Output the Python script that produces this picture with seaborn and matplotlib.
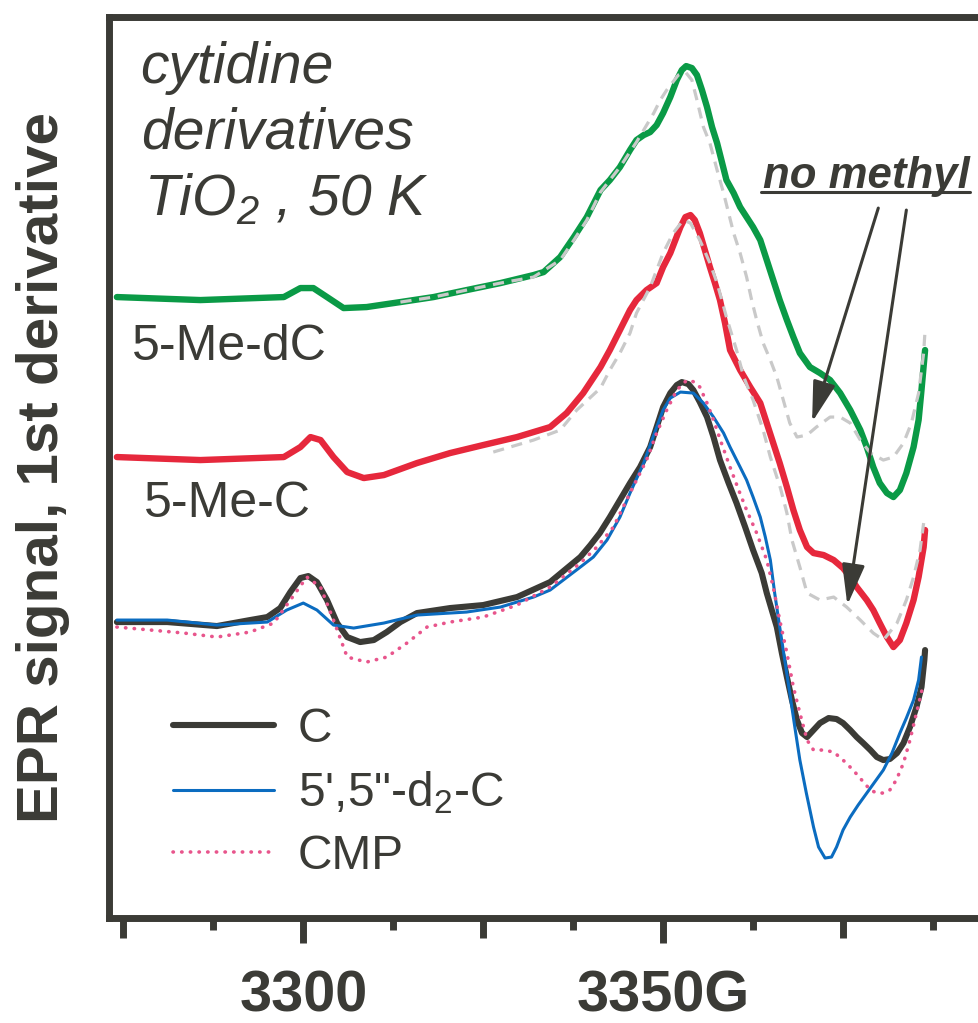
import matplotlib
matplotlib.use("Agg")
import matplotlib.pyplot as plt
import seaborn as sns
from matplotlib.lines import Line2D

# field in G, signal in arbitrary units
me_dc_field = [3274.1, 3285.7, 3297.3, 3299.6, 3301.4, 3303.3, 3305.6, 3308.8, 3313.5, 3318.1,
               3322.7, 3327.4, 3332.0, 3333.4, 3335.7, 3337.6, 3339.4, 3341.3, 3342.6, 3344.0,
               3345.4, 3346.3, 3347.3, 3348.2, 3349.1, 3350.0, 3351.0, 3351.9, 3352.6, 3353.2,
               3354.0, 3354.7, 3355.4, 3356.1, 3356.8, 3357.5, 3358.1, 3358.8, 3359.8, 3360.7,
               3361.6, 3362.5, 3363.5, 3364.4, 3365.3, 3366.2, 3367.2, 3368.1, 3369.0, 3370.4,
               3371.8, 3373.2, 3374.6, 3376.0, 3377.4, 3378.3, 3379.2, 3380.1, 3381.1, 3382.0,
               3382.9, 3383.8, 3384.8, 3385.5, 3385.9, 3386.4]
me_dc_signal = [62.1, 61.8, 62.1, 63.0, 63.0, 62.1, 61.0, 61.1, 61.6, 62.1,
                62.8, 63.5, 64.3, 64.6, 66.1, 68.1, 70.1, 72.8, 73.8, 75.1,
                76.8, 77.8, 78.3, 78.6, 79.3, 80.5, 82.1, 83.8, 84.8, 85.2,
                85.0, 84.3, 82.8, 81.1, 79.1, 77.5, 75.8, 73.8, 72.5, 71.1,
                70.1, 69.1, 67.8, 65.8, 63.8, 61.8, 59.8, 58.1, 56.5, 55.1,
                54.5, 53.8, 52.5, 50.8, 48.8, 47.1, 45.1, 43.5, 42.5, 42.1,
                42.8, 44.5, 47.1, 49.8, 52.8, 56.8]

# "no methyl" reference overlaid on 5-Me-dC
ref_dc_field = [3313.5, 3318.1, 3322.7, 3327.4, 3332.0, 3335.7, 3337.6, 3339.4, 3341.3, 3344.0,
                3346.3, 3347.3, 3348.7, 3349.6, 3350.5, 3352.1, 3353.1, 3354.0, 3354.7, 3355.6,
                3356.5, 3357.5, 3358.4, 3359.1, 3359.8, 3360.7, 3361.6, 3362.3, 3363.0, 3363.9,
                3364.9, 3365.8, 3366.7, 3367.6, 3368.6, 3370.0, 3371.3, 3373.2, 3374.6, 3376.0,
                3377.4, 3378.8, 3380.6, 3382.0, 3383.4, 3384.5, 3385.5, 3386.2, 3386.4]
ref_dc_signal = [61.6, 62.1, 62.8, 63.5, 64.1, 65.8, 67.8, 69.8, 72.6, 75.1,
                 77.6, 78.8, 80.5, 81.8, 82.8, 84.3, 84.6, 83.8, 81.8, 79.1,
                 77.5, 74.8, 72.5, 70.5, 68.5, 66.5, 64.1, 61.8, 59.8, 57.5,
                 55.8, 54.1, 51.8, 49.5, 48.1, 48.3, 49.1, 50.1, 50.1, 49.5,
                 47.8, 46.5, 45.8, 46.1, 47.5, 49.5, 52.5, 56.5, 58.8]

me_c_field = [3274.1, 3285.7, 3297.3, 3299.6, 3301.0, 3302.4, 3304.2, 3306.1, 3308.4, 3311.2,
              3315.8, 3320.4, 3325.0, 3329.7, 3334.3, 3336.6, 3338.9, 3341.3, 3342.6, 3344.0,
              3345.4, 3346.3, 3347.7, 3349.1, 3350.0, 3351.0, 3351.7, 3352.4, 3353.1, 3353.8,
              3354.4, 3355.1, 3355.8, 3356.5, 3357.2, 3357.9, 3358.6, 3359.3, 3360.7, 3362.1,
              3363.5, 3364.4, 3365.3, 3366.2, 3367.2, 3368.1, 3369.0, 3370.0, 3370.9, 3372.3,
              3373.7, 3375.0, 3376.0, 3376.9, 3378.3, 3379.2, 3380.1, 3381.1, 3382.0, 3382.9,
              3383.8, 3384.8, 3385.5, 3386.2, 3386.4]
me_c_signal = [46.1, 45.8, 46.1, 47.1, 48.1, 47.8, 46.1, 44.6, 44.0, 44.3,
               45.5, 46.5, 47.3, 48.1, 49.1, 50.5, 52.5, 55.1, 56.8, 58.8,
               60.8, 61.8, 62.8, 63.5, 65.1, 66.5, 67.8, 69.1, 70.1, 70.3,
               69.8, 68.5, 66.8, 65.1, 63.5, 61.8, 59.5, 56.8, 54.8, 53.1,
               51.5, 49.5, 47.5, 45.5, 43.1, 40.8, 38.8, 37.1, 36.5, 36.3,
               35.8, 35.0, 34.1, 33.1, 31.8, 30.8, 29.5, 28.1, 27.1, 27.8,
               29.5, 31.8, 34.1, 37.1, 38.8]

# "no methyl" reference overlaid on 5-Me-C
ref_c_field = [3326.4, 3332.0, 3335.7, 3338.0, 3341.3, 3342.6, 3344.0, 3345.4, 3346.3, 3348.2,
               3350.0, 3351.4, 3352.8, 3353.8, 3355.1, 3356.5, 3357.5, 3358.8, 3360.2, 3361.2,
               3362.5, 3363.9, 3364.9, 3366.3, 3367.2, 3367.9, 3369.0, 3370.0, 3371.8, 3373.7,
               3375.5, 3377.4, 3379.2, 3380.6, 3382.5, 3383.8, 3384.8, 3385.7, 3386.2]
ref_c_signal = [46.6, 47.8, 48.8, 50.8, 53.0, 54.8, 56.5, 58.5, 60.5, 63.1,
                66.5, 68.5, 69.8, 69.5, 67.8, 65.5, 63.5, 60.1, 56.8, 54.1,
                51.8, 48.8, 46.1, 43.0, 40.5, 37.8, 35.1, 32.5, 31.8, 32.1,
                31.1, 29.8, 28.5, 27.8, 29.5, 31.8, 34.1, 36.8, 39.5]

c_field = [3274.1, 3281.1, 3288.0, 3292.6, 3295.0, 3296.8, 3298.2, 3299.6, 3300.7, 3301.9,
           3303.3, 3304.7, 3306.1, 3307.9, 3309.8, 3311.6, 3313.5, 3315.8, 3320.4, 3325.0,
           3329.7, 3334.3, 3338.5, 3339.9, 3341.2, 3342.6, 3344.0, 3345.4, 3346.8, 3348.2,
           3349.1, 3350.0, 3351.0, 3351.9, 3352.6, 3353.5, 3354.2, 3355.1, 3356.1, 3357.0,
           3357.9, 3359.1, 3360.2, 3361.4, 3362.5, 3363.7, 3364.4, 3365.1, 3365.8, 3366.5,
           3367.2, 3367.9, 3368.6, 3369.3, 3370.0, 3370.9, 3371.8, 3373.0, 3374.1, 3375.0,
           3376.0, 3376.9, 3377.8, 3378.8, 3379.7, 3380.6, 3381.5, 3382.5, 3383.4, 3384.3,
           3385.2, 3385.9, 3386.3, 3386.4]
c_signal = [29.6, 29.6, 29.2, 29.8, 30.1, 31.0, 32.6, 34.0, 34.2, 33.6,
            31.8, 29.5, 28.1, 27.6, 27.8, 28.6, 29.6, 30.5, 31.0, 31.3,
            32.1, 33.6, 36.1, 37.3, 38.5, 40.1, 41.8, 43.5, 45.1, 47.1,
            49.1, 51.1, 52.5, 53.3, 53.6, 53.4, 52.8, 51.6, 50.1, 48.1,
            45.8, 43.5, 41.5, 39.1, 36.8, 34.5, 32.5, 30.8, 29.1, 26.5,
            24.1, 21.8, 19.8, 18.5, 18.1, 18.8, 19.5, 20.0, 19.9, 19.5,
            18.8, 18.1, 17.5, 16.8, 16.1, 15.8, 15.9, 16.5, 17.5, 19.1,
            21.1, 23.1, 25.8, 26.8]

d2_field = [3274.1, 3281.1, 3288.0, 3295.0, 3297.7, 3300.0, 3301.9, 3304.2, 3307.0, 3311.2,
            3315.8, 3322.7, 3327.4, 3332.0, 3334.3, 3338.5, 3340.3, 3342.2, 3344.0, 3345.4,
            3347.3, 3348.6, 3350.0, 3351.0, 3352.4, 3354.2, 3355.6, 3357.0, 3358.4, 3359.3,
            3360.7, 3361.6, 3362.5, 3363.5, 3364.2, 3364.9, 3365.5, 3366.2, 3366.9, 3367.6,
            3368.3, 3369.0, 3369.9, 3370.9, 3371.6, 3372.5, 3373.4, 3374.1, 3375.0, 3376.0,
            3377.1, 3378.3, 3379.4, 3380.6, 3381.8, 3382.9, 3383.8, 3384.8, 3385.5, 3385.9]
d2_signal = [29.8, 29.8, 29.3, 29.6, 30.8, 31.5, 30.8, 29.3, 29.0, 29.5,
             30.3, 30.6, 31.1, 32.1, 32.8, 35.1, 36.1, 37.8, 40.1, 42.5,
             45.5, 48.1, 50.8, 52.0, 52.6, 52.5, 51.5, 50.1, 48.5, 47.1,
             45.1, 43.8, 42.1, 40.1, 38.1, 35.8, 32.5, 29.1, 25.8, 22.5,
             19.1, 15.8, 12.5, 9.1, 7.1, 6.0, 6.1, 7.1, 8.8, 10.1,
             11.3, 12.5, 13.6, 14.8, 16.5, 18.5, 20.0, 21.8, 23.8, 26.1]

cmp_field = [3274.1, 3278.8, 3283.4, 3288.0, 3292.6, 3295.9, 3298.2, 3300.5, 3302.4, 3304.2,
             3306.1, 3308.8, 3311.6, 3314.4, 3317.2, 3320.4, 3325.0, 3329.7, 3334.3, 3338.5,
             3340.8, 3343.1, 3345.4, 3347.7, 3349.1, 3350.5, 3351.9, 3353.3, 3354.4, 3355.1,
             3356.1, 3357.0, 3358.1, 3359.3, 3360.5, 3361.6, 3363.0, 3364.4, 3365.3, 3366.2,
             3367.2, 3368.1, 3369.0, 3370.0, 3370.9, 3372.3, 3373.7, 3375.0, 3376.4, 3377.6,
             3378.8, 3379.7, 3380.6, 3381.5, 3382.4, 3383.4, 3384.3, 3385.2, 3386.2]
cmp_signal = [29.1, 28.8, 28.5, 28.1, 28.6, 29.5, 31.8, 34.1, 33.1, 29.8,
              26.1, 25.6, 26.1, 27.5, 29.1, 29.6, 30.1, 31.3, 33.1, 35.5,
              37.1, 39.1, 42.5, 45.8, 48.5, 50.8, 52.8, 53.8, 53.6, 53.1,
              51.5, 49.8, 47.5, 45.1, 42.8, 40.8, 38.5, 35.8, 33.1, 29.8,
              26.5, 23.1, 20.5, 17.8, 16.8, 16.8, 16.6, 15.8, 14.8, 13.8,
              12.8, 12.5, 12.5, 12.8, 13.8, 15.5, 17.8, 20.5, 23.5]

major_ticks = [3275, 3300, 3325, 3350, 3375, 3400]
major_labels = ["", "3300", "", "3350G", "", ""]
minor_ticks = [3287.5, 3312.5, 3337.5, 3362.5, 3387.5]

ink = "#3b3b36"
grey = "#c9c9c9"

sns.set_style("white")
plt.rcParams["font.family"] = ["Liberation Sans", "DejaVu Sans"]
plt.rcParams["mathtext.default"] = "regular"

fig = plt.figure(figsize=(9.79, 10.23), dpi=100)
ax = fig.add_axes([0.1113, 0.1026, 0.9336, 0.8812])

round_kw = dict(solid_joinstyle="round", solid_capstyle="round")
dash_kw = dict(color=grey, lw=2.3, estimator=None, linestyle=(0, (3.5, 2.4)))

sns.lineplot(x=me_dc_field, y=me_dc_signal, ax=ax, color="#0a9a46", lw=4.6, estimator=None, **round_kw)
sns.lineplot(x=ref_dc_field, y=ref_dc_signal, ax=ax, **dash_kw)
sns.lineplot(x=me_c_field, y=me_c_signal, ax=ax, color="#e6283c", lw=4.6, estimator=None, **round_kw)
sns.lineplot(x=ref_c_field, y=ref_c_signal, ax=ax, **dash_kw)

sns.lineplot(x=c_field, y=c_signal, ax=ax, color=ink, lw=4.4, estimator=None, label="C", **round_kw)
sns.lineplot(x=d2_field, y=d2_signal, ax=ax, color="#0b6cc0", lw=2.2, estimator=None,
             label="5',5\"-d$_2$-C", **round_kw)
sns.lineplot(x=cmp_field, y=cmp_signal, ax=ax, color="#e8558c", lw=2.6, estimator=None,
             label="CMP", linestyle=(0, (0.1, 2.3)), dash_capstyle="round")

ax.set_xlim(3273, 3400)
ax.set_ylim(0, 90.15)
ax.set_yticks([])
ax.set_xticks(major_ticks)
ax.set_xticklabels(major_labels)
ax.set_xticks(minor_ticks, minor=True)
ax.tick_params(axis="x", which="major", bottom=True, direction="out", length=18, width=5,
               color=ink, pad=19, labelsize=41.5, labelcolor=ink)
ax.tick_params(axis="x", which="minor", bottom=True, direction="out", length=8.6, width=5, color=ink)
for t in ax.get_xticklabels():
    t.set_fontweight("bold")
for loc, tick in zip(major_ticks, ax.xaxis.get_major_ticks()):
    if loc % 50 != 0:
        tick.tick1line.set_markersize(14.4)

for side in ["left", "bottom", "top", "right"]:
    ax.spines[side].set_linewidth(5)
    ax.spines[side].set_color(ink)

ax.set_xlabel("")
ax.set_ylabel("EPR signal, 1st derivative", fontsize=42, fontweight="bold", color=ink, labelpad=28)

# sample annotation
ax.text(3277.4, 83.5, "cytidine", fontsize=41, style="italic", color=ink, va="baseline")
ax.text(3277.4, 77.0, "derivatives", fontsize=41, style="italic", color=ink, va="baseline")
ax.text(3277.9, 70.3, "TiO$_2$ , 50 K", fontsize=41, style="italic", color=ink, va="baseline")

ax.text(3276.2, 55.8, "5-Me-dC", fontsize=36, color=ink, va="baseline")
ax.text(3277.8, 40.1, "5-Me-C", fontsize=36, color=ink, va="baseline")

note = ax.text(3363.9, 73.0, "no methyl", fontsize=31.5, fontweight="bold", style="italic",
               color=ink, va="baseline")

arrow_kw = dict(arrowstyle="-|>,head_length=2.5,head_width=0.7", color=ink, lw=2.2,
                shrinkA=0, shrinkB=0, mutation_scale=10)
ax.annotate("", xy=(3370.7, 49.6), xytext=(3379.9, 71.0), arrowprops=arrow_kw)
ax.annotate("", xy=(3375.6, 31.3), xytext=(3383.8, 70.8), arrowprops=arrow_kw)

ax.legend(loc="upper left", bbox_to_anchor=(173 / 979, 1 - 707 / 1023), bbox_transform=fig.transFigure,
          frameon=False, fontsize=34.5, handlelength=2.1, handletextpad=0.5, labelspacing=0.37,
          borderpad=0, borderaxespad=0, labelcolor=ink)

# underline the "no methyl" note
fig.canvas.draw()
bb = note.get_window_extent().transformed(fig.transFigure.inverted())
y_line = ax.transData.transform((0, 72.6))[1] / fig.bbox.height
fig.add_artist(Line2D([bb.x0 - 0.002, bb.x1], [y_line, y_line], color=ink, lw=2.2,
                      transform=fig.transFigure))

fig.savefig("out.png", dpi=100)
